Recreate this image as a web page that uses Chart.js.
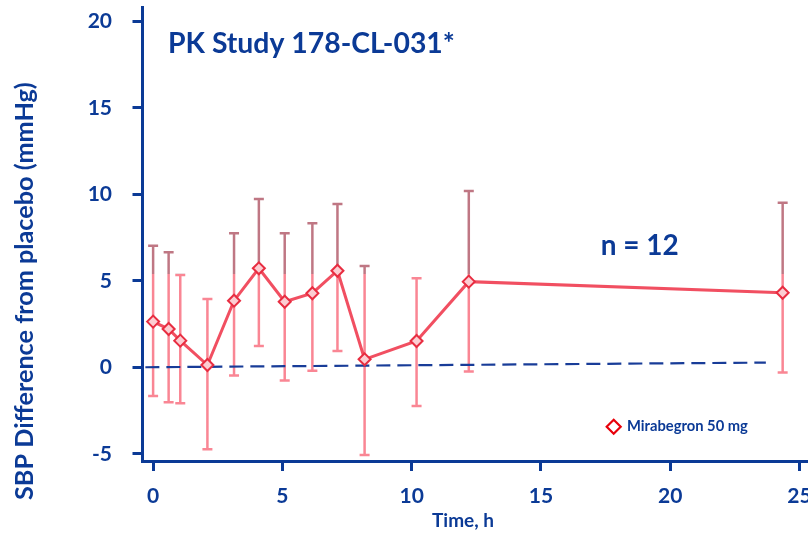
<!DOCTYPE html>
<html><head><meta charset="utf-8">
<script src="https://cdn.jsdelivr.net/npm/chart.js@4/dist/chart.umd.min.js"></script>
<style>html,body{margin:0;padding:0;background:#fff}#c{display:block}</style>
</head><body>
<canvas id="c" width="808" height="533"></canvas>
<script>
// ---- data ----
const timeHours = [0, 0.6, 1.05, 2.1, 3.13, 4.09, 5.09, 6.16, 7.13, 8.18, 10.19, 12.21, 24.35];
const sbpDiff   = [2.64, 2.21, 1.54, 0.13, 3.85, 5.72, 3.79, 4.28, 5.58, 0.46, 1.52, 4.95, 4.31];
const errUpper  = [7.03, 6.65, 5.34, 3.95, 7.75, 9.73, 7.75, 8.32, 9.44, 5.86, 5.14, 10.19, 9.51];
const errLower  = [-1.66, -2.02, -2.08, -4.74, -0.48, 1.23, -0.77, -0.2, 0.94, -5.07, -2.24, -0.25, -0.31];
const placeboTime = [-0.3, 23.7];
const placeboLine = [0, 0.27];
const xTicks = [0, 5, 10, 15, 20, 25];
const yTicks = [-5, 0, 5, 10, 15, 20];
const seriesName = 'Mirabegron 50 mg';
const titleText = 'PK Study 178-CL-031*';
const nText = 'n = 12';
const yTitle = 'SBP Difference from placebo (mmHg)';
const xTitle = 'Time, h';

const BLUE = '#0b3a96';
const FONT = 'Lato';

function fitFont(ctx, text, width, weight) {
  const size = 10;
  ctx.font = weight + ' ' + size + 'px ' + FONT;
  const w = ctx.measureText(text).width;
  return size * width / w;
}

const errorBars = {
  id: 'errorBars',
  beforeDatasetsDraw(chart) {
    const {ctx, scales: {x, y}, chartArea} = chart;
    const split = y.getPixelForValue(5.4);
    const g = ctx.createLinearGradient(0, chartArea.top, 0, chartArea.bottom);
    const f = Math.min(1, Math.max(0, (split - chartArea.top) / (chartArea.bottom - chartArea.top)));
    g.addColorStop(0, 'rgba(180,95,110,0.85)');
    g.addColorStop(f, 'rgba(180,95,110,0.85)');
    g.addColorStop(f, 'rgba(248,100,118,0.78)');
    g.addColorStop(1, 'rgba(248,100,118,0.78)');
    ctx.save();
    ctx.strokeStyle = g;
    ctx.lineWidth = 2.5;
    for (let i = 0; i < timeHours.length; i++) {
      const px = x.getPixelForValue(timeHours[i]);
      const yt = y.getPixelForValue(errUpper[i]);
      const yb = y.getPixelForValue(errLower[i]);
      ctx.beginPath();
      ctx.moveTo(px, yt); ctx.lineTo(px, yb);
      ctx.moveTo(px - 5, yt); ctx.lineTo(px + 5, yt);
      ctx.moveTo(px - 5, yb); ctx.lineTo(px + 5, yb);
      ctx.stroke();
    }
    ctx.restore();
  }
};

const annotations = {
  id: 'annotations',
  afterDraw(chart) {
    const ctx = chart.ctx;
    ctx.save();
    ctx.fillStyle = BLUE;
    ctx.textBaseline = 'alphabetic';
    ctx.textAlign = 'left';
    // title
    let s = fitFont(ctx, titleText, 287, 'bold');
    ctx.font = 'bold ' + s + 'px ' + FONT;
    ctx.fillText(titleText, 168, 53.3);
    // n = 12
    s = fitFont(ctx, nText, 78, 'bold');
    ctx.font = 'bold ' + s + 'px ' + FONT;
    ctx.fillText(nText, 600.7, 255);
    // legend
    s = fitFont(ctx, seriesName, 121, 'bold');
    ctx.font = 'bold ' + s + 'px ' + FONT;
    ctx.fillText(seriesName, 627, 430.7);
    ctx.beginPath();
    const cx = 613.7, cy = 426.7, r = 7;
    ctx.moveTo(cx, cy - r); ctx.lineTo(cx + r, cy); ctx.lineTo(cx, cy + r); ctx.lineTo(cx - r, cy); ctx.closePath();
    ctx.fillStyle = '#fff'; ctx.fill();
    ctx.strokeStyle = '#e8000a'; ctx.lineWidth = 2.2; ctx.stroke();
    // y title
    ctx.fillStyle = BLUE;
    s = fitFont(ctx, yTitle, 418, 'bold');
    ctx.font = 'bold ' + s + 'px ' + FONT;
    ctx.translate(33, 500);
    ctx.rotate(-Math.PI / 2);
    ctx.fillText(yTitle, 0, 0);
    ctx.restore();
    // x title
    ctx.save();
    ctx.fillStyle = BLUE;
    s = fitFont(ctx, xTitle, 62, 'bold');
    ctx.font = 'bold ' + s + 'px ' + FONT;
    ctx.textAlign = 'center';
    ctx.textBaseline = 'alphabetic';
    ctx.fillText(xTitle, 463, 527);
    ctx.restore();
  }
};

new Chart(document.getElementById('c'), {
  type: 'scatter',
  data: {
    datasets: [
      {
        label: seriesName,
        data: timeHours.map((t, i) => ({x: t, y: sbpDiff[i]})),
        showLine: true,
        borderColor: 'rgba(240,60,80,0.9)',
        borderWidth: 3,
        pointStyle: 'rectRot',
        pointRadius: 6,
        pointBorderWidth: 2,
        pointBorderColor: 'rgb(232,45,65)',
        pointBackgroundColor: 'rgb(252,205,210)',
        order: 1
      },
      {
        label: 'placebo',
        data: placeboTime.map((t, i) => ({x: t, y: placeboLine[i]})),
        showLine: true,
        borderColor: '#183c98',
        borderWidth: 2.2,
        borderDash: [14, 7],
        pointRadius: 0,
        order: 2
      }
    ]
  },
  options: {
    responsive: false,
    animation: false,
    devicePixelRatio: 1,
    layout: {autoPadding: false, padding: {top: 7, right: 0, bottom: 0, left: 0}},
    plugins: {legend: {display: false}, tooltip: {enabled: false}},
    scales: {
      x: {
        type: 'linear',
        min: -0.43, max: 25.33,
        afterBuildTicks: s => { s.ticks = xTicks.map(v => ({value: v})); },
        afterFit: s => { s.height = 72; s.paddingLeft = 0; s.paddingRight = 0; },
        grid: {drawOnChartArea: false, drawTicks: true, tickLength: 10, color: BLUE, lineWidth: 3},
        border: {display: true, color: BLUE, width: 3},
        ticks: {color: BLUE, font: {family: FONT, size: 21, weight: 'bold'}, padding: 13, maxRotation: 0, autoSkip: false}
      },
      y: {
        type: 'linear',
        min: -5.42, max: 20.83,
        afterBuildTicks: s => { s.ticks = yTicks.map(v => ({value: v})); },
        afterFit: s => { s.width = 142; s.paddingTop = 0; s.paddingBottom = 0; },
        grid: {drawOnChartArea: false, drawTicks: true, tickLength: 9.5, color: BLUE, lineWidth: 3},
        border: {display: true, color: BLUE, width: 3},
        ticks: {color: BLUE, font: {family: FONT, size: 21, weight: 'bold'}, padding: 20.5, autoSkip: false}
      }
    }
  },
  plugins: [errorBars, annotations]
});
</script>
</body></html>
